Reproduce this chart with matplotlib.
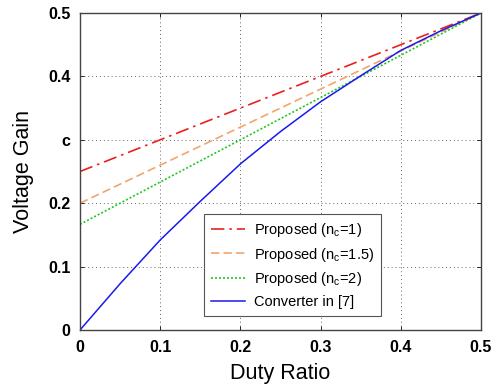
import matplotlib
matplotlib.use('Agg')
import matplotlib.pyplot as plt
import numpy as np

plt.rcParams['font.family'] = ['Liberation Sans', 'DejaVu Sans']

# duty ratio axis
duty = [0.0, 0.5]
gain_nc1 = [0.25, 0.5]
gain_nc15 = [0.2, 0.5]
gain_nc2 = [0.1667, 0.5]

# converter in [7]
duty_ref = [0.0, 0.05, 0.1, 0.15, 0.2, 0.25, 0.3, 0.35, 0.4, 0.45, 0.5]
gain_ref = [0.0, 0.073, 0.142, 0.203, 0.262, 0.313, 0.360, 0.401, 0.441, 0.472, 0.5]

xticks = [0, 0.1, 0.2, 0.3, 0.4, 0.5]
xtick_labels = ['0', '0.1', '0.2', '0.3', '0.4', '0.5']
yticks = [0, 0.1, 0.2, 0.3, 0.4, 0.5]
ytick_labels = ['0', '0.1', '0.2', 'c', '0.4', '0.5']

fig = plt.figure(figsize=(5.02, 3.9), dpi=100)
ax = fig.add_axes([80/502, 1-330/390, 401/502, 317/390])

ax.plot(duty, gain_nc1, color='#e8211f', linestyle=(0, (8, 3, 1.5, 3)), linewidth=1.2, label='Proposed (n$_\\mathregular{c}$=1)')
ax.plot(duty, gain_nc15, color='#f4a46a', linestyle=(0, (5, 2.5)), linewidth=1.2, label='Proposed (n$_\\mathregular{c}$=1.5)')
ax.plot(duty, gain_nc2, color='#1ec81e', linestyle=(0, (1.2, 1.2)), linewidth=1.2, label='Proposed (n$_\\mathregular{c}$=2)')
ax.plot(duty_ref, gain_ref, color='#1a1aee', linewidth=1.1, label='Converter in [7]')

ax.set_xlim(0, 0.5)
ax.set_ylim(0, 0.5)
ax.set_xticks(xticks)
ax.set_xticklabels(xtick_labels, fontweight='bold', fontsize=11.5)
ax.set_yticks(yticks)
ax.set_yticklabels(ytick_labels, fontweight='bold', fontsize=11.5)
ax.tick_params(direction='in', length=3, width=0.6, pad=7, top=True, right=True)
ax.grid(True, linestyle=(0, (1, 3)), color='#666666', linewidth=0.7)
for s in ax.spines.values():
    s.set_color('#444444')
    s.set_linewidth(1.0)

ax.set_xlabel('Duty Ratio', fontsize=15.5, labelpad=6)
ax.set_ylabel('Voltage Gain', fontsize=15.5, labelpad=10)

leg = ax.legend(loc='lower left', bbox_to_anchor=((204-80)/401, (330-316)/317), fontsize=10.5,
                fancybox=False, framealpha=1, edgecolor='#555555', handlelength=2.3,
                labelspacing=0.45, borderpad=0.5, borderaxespad=0, handletextpad=0.6)
leg.get_frame().set_linewidth(0.8)

fig.savefig('out.png', dpi=100)
